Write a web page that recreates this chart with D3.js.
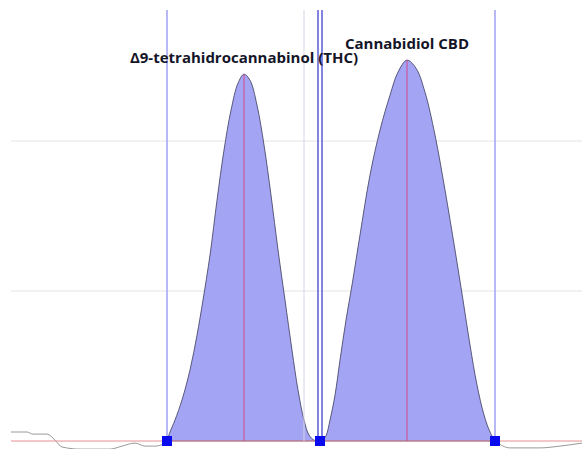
<!DOCTYPE html>
<html lang="en">
<head>
<meta charset="UTF-8">
<title>Chromatogram</title>
<script src="https://cdn.jsdelivr.net/npm/d3@7"></script>
<style>
body { margin: 0; background: #fff; }
.label { font-family: "Open Sans", Arial, sans-serif; font-weight: bold; font-size: 15px; fill: #151528; }
</style>
</head>
<body>
<svg id="chart" width="582" height="449"></svg>
<script>
// retention time (min), signal (mAU)
var peakNames = ["\u03949-tetrahidrocannabinol (THC)", "Cannabidiol CBD"];
var peakStart = [3.56, 5.11];
var peakEnd = [5.07, 6.84];
var peakApex = [4.33, 5.96];
var gridValues = [50, 100];
var cutLine = 4.93;
var markerTimes = [3.56, 5.09, 6.84];

var thcTime = [3.56, 3.59, 3.64, 3.71, 3.79, 3.86, 3.92, 3.99, 4.06, 4.13, 4.20, 4.27, 4.33,
               4.39, 4.46, 4.53, 4.60, 4.67, 4.74, 4.81, 4.87, 4.93, 4.98, 5.03, 5.07];
var thcSignal = [0, 3, 7, 13.7, 23.7, 35.3, 47, 62, 80.3, 97, 110.3, 119.3, 122.3,
                 120.3, 112, 98.7, 82, 63.7, 47, 30.3, 17, 7, 2, 0.3, 0];
var cbdTime = [5.11, 5.15, 5.19, 5.24, 5.29, 5.35, 5.41, 5.49, 5.59, 5.69, 5.79, 5.87, 5.96,
               6.05, 6.14, 6.24, 6.34, 6.44, 6.52, 6.59, 6.66, 6.73, 6.79, 6.84];
var cbdSignal = [0, 1.7, 7, 15.3, 27, 40.3, 52, 68.7, 88.7, 103.7, 115.3, 123, 127,
                 124.3, 116.3, 102, 83.7, 63.7, 47, 32, 18.7, 8.7, 3, 0];
var noiseLeftTime = [2.0, 2.16, 2.22, 2.36, 2.44, 2.51, 2.69, 2.99, 3.11, 3.24, 3.34, 3.44, 3.54, 3.56];
var noiseLeftSignal = [3, 3, 2.3, 2.3, 0.3, -2, -2.7, -2.7, -1.7, -0.7, -1.7, -1.7, -0.7, 0];
var noiseRightTime = [6.84, 6.99, 7.29, 7.49, 7.71];
var noiseRightSignal = [0, -2.3, -2.3, -1.7, -0.7];

var svg = d3.select("#chart");

var x = d3.scaleLinear().domain([2.0, 7.71]).range([11, 582]);
var y = d3.scaleLinear().domain([0, 143.7]).range([441, 10]);

function zip(t, s) { return t.map(function(d, i) { return [d, s[i]]; }); }
var peaks = [zip(thcTime, thcSignal), zip(cbdTime, cbdSignal)];

// grid
svg.selectAll(".grid")
    .data(gridValues).enter()
    .append("line")
    .attr("x1", x(2.0)).attr("x2", x(7.71))
    .attr("y1", y).attr("y2", y)
    .attr("stroke", "#e4e4e4")
    .attr("stroke-width", 1);

// noise
var line = d3.line().x(function(d) { return x(d[0]); }).y(function(d) { return y(d[1]); }).curve(d3.curveMonotoneX);
[zip(noiseLeftTime, noiseLeftSignal), zip(noiseRightTime, noiseRightSignal)].forEach(function(n) {
  svg.append("path").datum(n)
      .attr("d", line)
      .attr("fill", "none")
      .attr("stroke", "#9a9a9a")
      .attr("stroke-width", 1);
});

// peaks
var area = d3.area()
    .x(function(d) { return x(d[0]); })
    .y0(y(0))
    .y1(function(d) { return y(d[1]); })
    .curve(d3.curveCatmullRom);

svg.selectAll(".peak")
    .data(peaks).enter()
    .append("path")
    .attr("class", "peak")
    .attr("d", area)
    .attr("fill", "#a4a4f4")
    .attr("stroke", "#3a3a5a")
    .attr("stroke-width", 0.8);

// baseline
svg.append("line")
    .attr("x1", x(2.0)).attr("x2", x(7.71))
    .attr("y1", y(0)).attr("y2", y(0))
    .attr("stroke", "#e89090")
    .attr("stroke-width", 1);

// cut line
svg.append("line")
    .attr("x1", x(cutLine)).attr("x2", x(cutLine))
    .attr("y1", y(143.7)).attr("y2", y(0))
    .attr("stroke", "#d4d4e4")
    .attr("stroke-width", 1);

// integration limits
var limits = [peakStart[0], peakEnd[0], peakStart[1], peakEnd[1]];
var limitColor = ["#a0a0f0", "#5a5ad6", "#5a5ad6", "#a0a0f0"];
svg.selectAll(".limit")
    .data(limits).enter()
    .append("line")
    .attr("x1", x).attr("x2", x)
    .attr("y1", y(143.7)).attr("y2", y(0))
    .attr("stroke", function(d, i) { return limitColor[i]; })
    .attr("stroke-width", 1.5);

// apex lines
svg.selectAll(".apex")
    .data(peakApex).enter()
    .append("line")
    .attr("x1", x).attr("x2", x)
    .attr("y1", function(d, i) { return y(d3.max(peaks[i], function(p) { return p[1]; })); })
    .attr("y2", y(0))
    .attr("stroke", "#d04a8a")
    .attr("stroke-width", 1);

// markers
svg.selectAll(".marker")
    .data(markerTimes).enter()
    .append("rect")
    .attr("x", function(d) { return x(d) - 5; })
    .attr("y", y(0) - 5)
    .attr("width", 10).attr("height", 10)
    .attr("fill", "#0a0aee");

// labels
svg.selectAll(".label")
    .data(peakNames).enter()
    .append("text")
    .attr("class", "label")
    .attr("text-anchor", "middle")
    .attr("x", function(d, i) { return x(peakApex[i]); })
    .attr("y", function(d, i) { return y(d3.max(peaks[i], function(p) { return p[1]; })) - 11; })
    .text(function(d) { return d; });
</script>
</body>
</html>
